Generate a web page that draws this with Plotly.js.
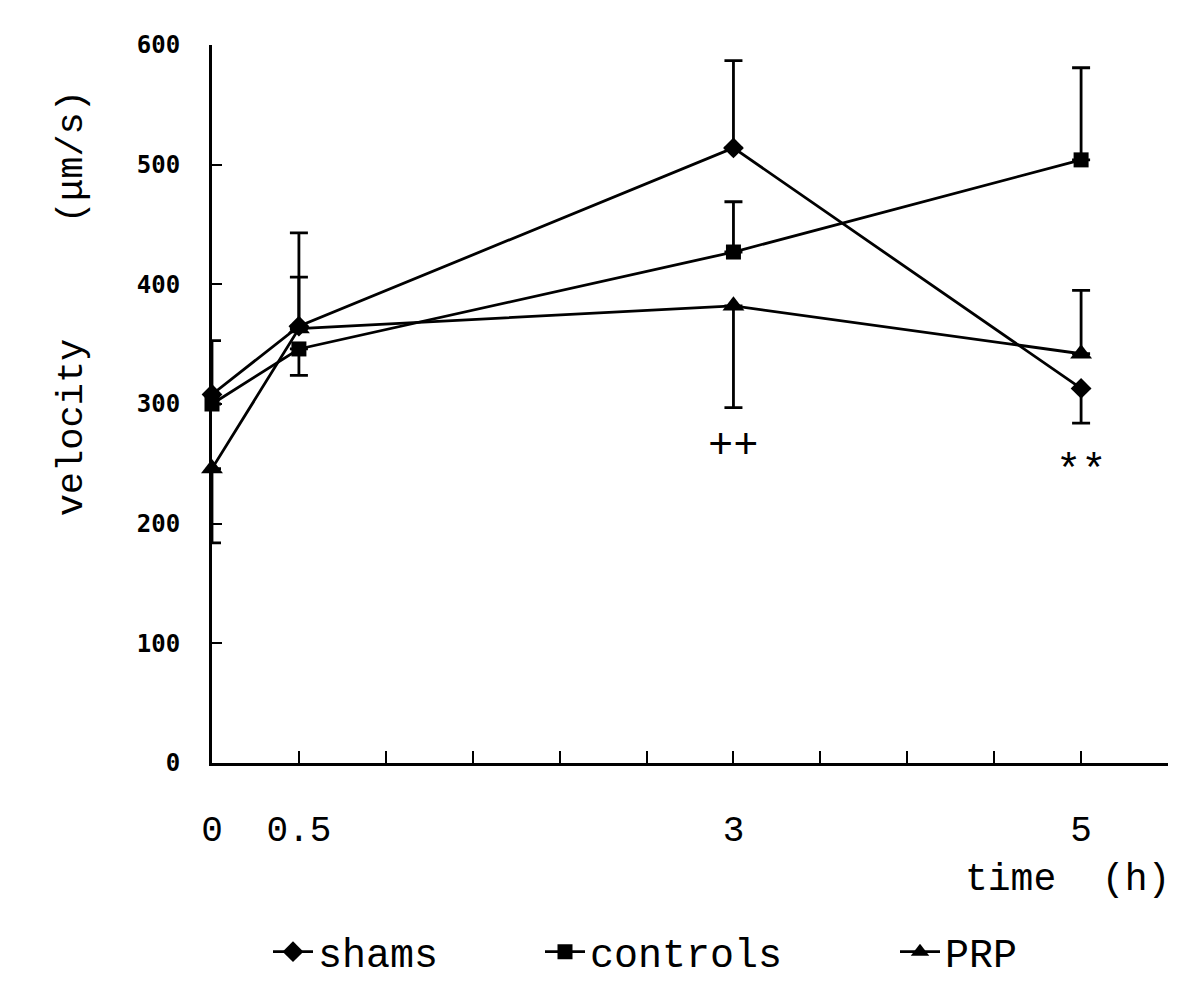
<!DOCTYPE html>
<html>
<head>
<meta charset="utf-8">
<script src="https://cdn.plot.ly/plotly-3.0.1.min.js"></script>
<style>html,body{margin:0;padding:0;background:#fff;}#chart{width:1200px;height:996px;}</style>
</head>
<body>
<div id="chart"></div>
<script>
// ---- data ----
var times = [0, 0.5, 3, 5];
var shamsY = [308, 365, 514, 313];
var shamsPlus = [45, 78, 73, 0];
var shamsMinus = [0, 0, 0, 29];
var controlsY = [300, 346, 427, 504];
var controlsPlus = [0, 0, 42, 77];
var controlsMinus = [0, 22, 0, 0];
var prpY = [246, 363, 382, 342];
var prpPlus = [0, 43, 0, 53];
var prpMinus = [62, 0, 85, 0];
var xTickVals = [0, 0.5, 1, 1.5, 2, 2.5, 3, 3.5, 4, 4.5, 5, 5.5];
var xTickText = ['0', '0.5', '', '', '', '', '3', '', '', '', '5', ''];
var yTickVals = [0, 100, 200, 300, 400, 500, 600];
var seriesNames = ['shams', 'controls', 'PRP'];
var marks = [{x: 3, y: 264, text: '++'}, {x: 5, y: 243, text: '**'}];

var mono = 'Liberation Mono, DejaVu Sans Mono, monospace';
var monoB = 'DejaVu Sans Mono, monospace';

function mkTrace(name, y, plus, minus, symbol, size, legendId) {
  return {
    x: times, y: y, name: name, type: 'scatter', mode: 'lines+markers',
    line: {color: '#000', width: 2.8},
    marker: {symbol: symbol, size: size, color: '#000'},
    error_y: {type: 'data', symmetric: false, array: plus, arrayminus: minus,
              color: '#000', thickness: 2.8, width: 9},
    legend: legendId, cliponaxis: false
  };
}

var data = [
  mkTrace(seriesNames[0], shamsY, shamsPlus, shamsMinus, 'diamond', 16, 'legend'),
  mkTrace(seriesNames[1], controlsY, controlsPlus, controlsMinus, 'square', 15, 'legend2'),
  mkTrace(seriesNames[2], prpY, prpPlus, prpMinus, 'triangle-up', 19, 'legend3')
];

var annotations = marks.map(function (m) {
  return {x: m.x, y: m.y, xref: 'x', yref: 'y', text: m.text, showarrow: false,
          xanchor: 'center', yanchor: 'middle',
          font: {family: mono, size: 42, color: '#000'}};
});
annotations.push({x: (72 - 212) / 956, y: (768 - 430) / 723, xref: 'paper', yref: 'paper', text: 'velocity',
  textangle: -90, xanchor: 'center', yanchor: 'middle', showarrow: false,
  font: {family: mono, size: 37, color: '#000'}});
annotations.push({x: (72 - 212) / 956, y: (768 - 158) / 723, xref: 'paper', yref: 'paper', text: '(μm/s)',
  textangle: -90, xanchor: 'center', yanchor: 'middle', showarrow: false,
  font: {family: mono, size: 37, color: '#000'}});
annotations.push({x: (1172 - 212) / 956, y: (768 - 885) / 723, xref: 'paper', yref: 'paper', text: 'time  (h)',
  xanchor: 'right', yanchor: 'middle', showarrow: false, font: {family: mono, size: 38, color: '#000'}});

function leg(xpix) {
  return {x: (xpix - 212) / 956, y: (768 - 958) / 723, xanchor: 'left', yanchor: 'middle',
          orientation: 'h', bgcolor: 'rgba(0,0,0,0)', font: {family: mono, size: 40, color: '#000'},
          itemwidth: 40};
}

var layout = {
  width: 1200, height: 996,
  margin: {l: 212, r: 32, t: 45, b: 228},
  paper_bgcolor: '#fff', plot_bgcolor: '#fff',
  showlegend: true,
  legend: leg(268), legend2: leg(540), legend3: leg(895),
  xaxis: {range: [0, 5.5], tickvals: xTickVals, ticktext: xTickText, ticks: 'inside', ticklen: 12,
          tickwidth: 2, tickcolor: '#000', showline: true, linecolor: '#000', linewidth: 3,
          showgrid: false, zeroline: false, ticklabelstandoff: 32,
          tickfont: {family: mono, size: 36, color: '#000'}},
  yaxis: {range: [0, 600], tickvals: yTickVals, ticks: 'inside', ticklen: 10, tickwidth: 2,
          tickcolor: '#000', showline: true, linecolor: '#000', linewidth: 3, showgrid: false,
          zeroline: false, ticklabelstandoff: 24,
          tickfont: {family: monoB, size: 24, color: '#000', weight: 'bold'}},
  annotations: annotations
};

Plotly.newPlot('chart', data, layout, {displayModeBar: false, staticPlot: true});
</script>
</body>
</html>
